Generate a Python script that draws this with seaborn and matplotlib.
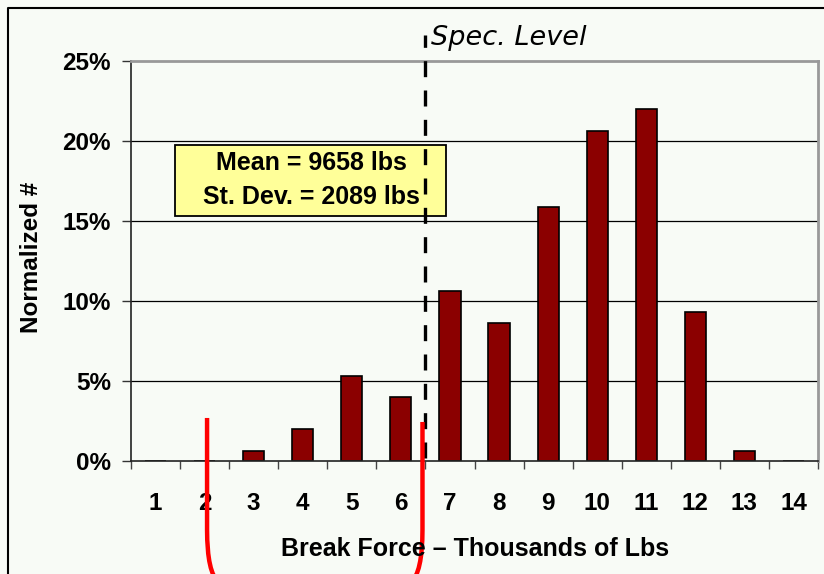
import matplotlib
matplotlib.use("Agg")
import matplotlib.pyplot as plt
from matplotlib.patches import Rectangle, PathPatch
from matplotlib.path import Path
from matplotlib.lines import Line2D
import seaborn as sns
import pandas as pd

# Break-force histogram (thousands of lbs) as a share of all samples
categories = ["1", "2", "3", "4", "5", "6", "7", "8", "9", "10", "11", "12", "13", "14"]
shares = [0.0, 0.0, 0.6, 2.0, 5.3, 4.0, 10.6, 8.6, 15.9, 20.6, 22.0, 9.3, 0.6, 0.0]
y_ticks = [0, 5, 10, 15, 20, 25]
spec_level_pos = 5.5          # boundary between the 6 and 7 bins
stats_lines = ["Mean = 9658 lbs", "St. Dev. = 2089 lbs"]

sns.set_theme(style="white")
plt.rcParams["font.family"] = ["Liberation Sans", "DejaVu Sans"]
plt.rcParams.update({"text.color": "black", "axes.labelcolor": "black",
                     "xtick.color": "black", "ytick.color": "black"})

bg = "#f8fbf6"
fig = plt.figure(figsize=(8.24, 5.74), dpi=100, facecolor=bg)
ax = fig.add_axes([131 / 824, 113 / 574, 687 / 824, 400 / 574])
ax.set_facecolor("none")

df = pd.DataFrame({"force": categories, "share": shares})
sns.barplot(data=df, x="force", y="share", order=categories, color="#8b0000",
            saturation=1, width=0.43, edgecolor="black", linewidth=1.2, ax=ax,
            zorder=2)

ax.set_xlim(-0.5, len(categories) - 0.5)
ax.set_ylim(0, 25)

# horizontal gridlines behind the bars
for t in y_ticks[1:-1]:
    ax.axhline(t, color="black", lw=0.9, zorder=0.5)

ax.set_yticks(y_ticks)
ax.set_yticklabels([f"{t}%" for t in y_ticks], fontsize=17.5, fontweight="bold")
ax.tick_params(axis="y", direction="out", length=6.5, width=1, color="#333333",
               pad=8, left=True, labelcolor="black")

ax.set_xticks(range(len(categories)))
ax.set_xticklabels(categories, fontsize=17.5, fontweight="bold")
ax.tick_params(axis="x", which="major", length=0, pad=22, labelcolor="black")
ax.set_xticks([i - 0.5 for i in range(len(categories) + 1)], minor=True)
ax.tick_params(axis="x", which="minor", direction="out", length=6, width=1,
               color="#444444", bottom=True)

ax.set_xlabel("")
ax.set_ylabel("")
for side in ("left", "bottom"):
    ax.spines[side].set_color("#222222")
    ax.spines[side].set_linewidth(1.2)
for side in ("top", "right"):
    ax.spines[side].set_color("#999999")
    ax.spines[side].set_linewidth(2)
    ax.spines[side].set_visible(True)

fig.text(475 / 824, 1 - 549 / 574, "Break Force \u2013 Thousands of Lbs",
         ha="center", va="center", fontsize=18, fontweight="bold", color="black")
fig.text(32 / 824, 1 - 257 / 574, "Normalized #", rotation=90,
         ha="center", va="center", fontsize=17.5, fontweight="bold", color="black")

# statistics box
ax.add_patch(Rectangle((0.397, 15.31), 5.52, 4.44, facecolor="#ffff99",
                       edgecolor="black", lw=1.3, zorder=3, clip_on=False))
ax.text(3.17, 18.63, stats_lines[0], ha="center", va="center", fontsize=18,
        fontweight="bold", zorder=4, color="black")
ax.text(3.17, 16.5, stats_lines[1], ha="center", va="center", fontsize=18,
        fontweight="bold", zorder=4, color="black")

# specification level marker
ax.add_line(Line2D([spec_level_pos, spec_level_pos], [0.2, 26.6], color="black",
                   lw=2.4, dashes=(4.8, 4.0), zorder=5, clip_on=False))
ax.text(spec_level_pos + 0.12, 26.45, "Spec. Level", ha="left", va="center",
        fontsize=19.5, style="italic", family="DejaVu Sans", zorder=5,
        color="black")

# red bracket around the 2-6 bins
left_x, right_x = 1.05, 5.44
for x0, top, curl in ((left_x, 2.69, 0.24), (right_x, 2.44, -0.24)):
    verts = [(x0, top), (x0, -4.3), (x0, -7.0), (x0 + curl, -7.6)]
    codes = [Path.MOVETO, Path.LINETO, Path.CURVE3, Path.CURVE3]
    ax.add_patch(PathPatch(Path(verts, codes), facecolor="none",
                           edgecolor="#ff0000", lw=3.2, zorder=6, clip_on=False,
                           capstyle="butt"))

# outer frame
fig.add_artist(Line2D([8 / 824, 8 / 824, 1.0], [0.0, 1 - 8 / 574, 1 - 8 / 574],
                      transform=fig.transFigure, color="black", lw=1.5))

fig.savefig("out.png", dpi=100, facecolor=bg)
